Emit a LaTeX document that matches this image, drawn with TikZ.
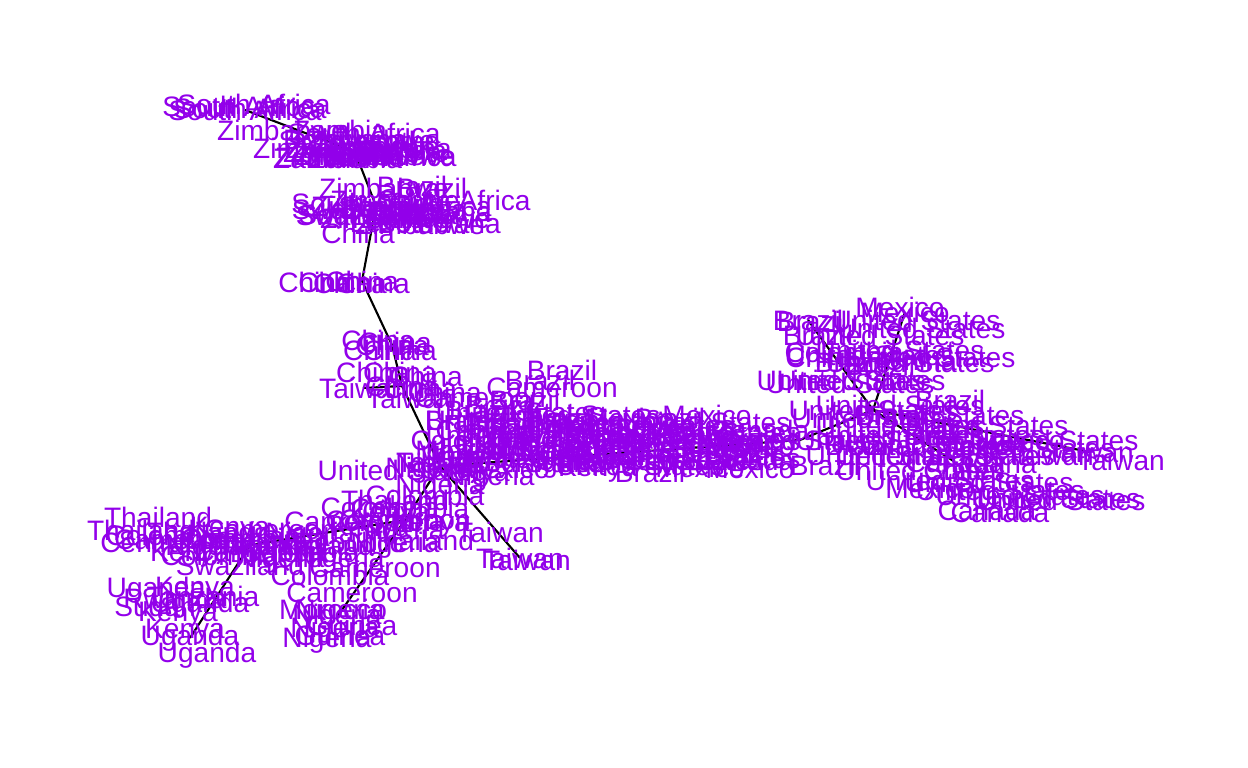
\documentclass[tikz,border=0pt]{standalone}
\usepackage{fontspec}
\setmainfont{Liberation Sans}
\usepackage{xcolor}
\usepackage{tikz}
\usetikzlibrary{backgrounds}
\definecolor{nodeviolet}{RGB}{146,0,234}

\begin{document}
\begin{tikzpicture}[x=0.01cm,y=-0.01cm,
	country/.style={text=nodeviolet,font=\fontsize{8}{9.6}\selectfont,inner sep=0pt}]
	\useasboundingbox (0,0) rectangle (1248,768);

%	====================================================================
%	top group
	\foreach \x/\y/\lbl [count=\i] in {239/106/South Africa,254/104/South Africa,250/108/South Africa,
		282/130/Zimbabwe,318/148/Zimbabwe,320/158/Zambia,364/133/South Africa,340/130/Zambia,
		350/148/Zimbabwe,360/155/Zimbabwe,375/146/Zimbabwe,395/152/Zambia,380/156/South Africa,
		390/141/Lesotho,345/140/Botswana,340/157/Zimbabwe,390/155/Zimbabwe,390/149/Botswana,
		330/152/Zambia,400/150/Zambia,370/140/Zimbabwe,355/158/Zambia,
		384/188/Zimbabwe,412/186/Brazil,432/188/Brazil,454/200/South Africa,368/203/South Africa,
		356/209/Swaziland,375/214/South Africa,395/200/Zimbabwe,415/206/South Africa,
		410/214/Zambia,430/212/Botswana,385/218/Zimbabwe,439/224/Botswana,420/224/Zimbabwe,
		358/233/China,400/222/Lesotho,360/215/Swaziland,405/210/Botswana,425/218/Zimbabwe}
		\node[country] (a\i) at (\x,\y) {\lbl};
	\node[country] (sa) at (245,110) {South Africa};
	\node[country] (zim) at (355,152) {Zimbabwe};
	\node[country] (bots) at (376,206) {Zimbabwe};

%	China chain
	\foreach \x/\y/\lbl [count=\i] in {315/282/China,335/282/China,350/283/China,373/283/China,
		378/340/China,395/342/China,380/350/China,400/350/China,373/372/China,400/372/China,
		426/376/China,410/398/Taiwan,420/388/China,445/392/China,562/370/Brazil,540/380/Brazil,
		552/388/Cameroon,480/398/Cameroon,500/405/Brazil,525/400/Brazil}
		\node[country] (b\i) at (\x,\y) {\lbl};
	\node[country] (chA) at (362,281) {China};
	\node[country] (chB) at (392,345) {China};
	\node[country] (chC) at (402,386) {China};
	\node[country] (twn) at (363,388) {Taiwan};

%	middle group
	\foreach \x/\y/\lbl [count=\i] in {576/415/United States,707/415/Mexico,706/422/United States,
		598/470/Kenya,640/465/United States,700/467/Mexico,480/410/Brazil,520/412/United States,
		510/420/United States,500/425/Brazil,540/422/United States,580/425/Mexico,
		610/428/United States,650/425/United States,690/430/Mexico,716/432/United States,
		510/435/United States,520/440/Kenya,560/438/United States,600/440/Brazil,640/437/Canada,
		680/442/United States,716/440/United States,750/445/Mexico,510/450/United States,
		530/452/Mexico,570/450/United States,610/455/Brazil,650/452/United States,
		700/455/United States,740/452/Brazil,716/458/United States,470/460/Kenya,
		520/462/United States,560/465/Nigeria,750/468/Mexico,402/470/United States,
		440/462/Taiwan,430/470/Nigeria,490/478/Nigeria,470/475/Kenya,505/455/United States,
		470/440/Colombia,460/420/Brazil,760/430/Canada,
		540/432/United States,600/433/United States,660/434/United States,545/446/United States,
		605/447/United States,665/448/United States,550/458/United States,620/460/United States,
		680/460/United States,490/445/Brazil,460/450/Mexico,740/438/Mexico,745/460/Canada,
		560/418/Brazil,630/418/Mexico,670/418/Brazil,505/468/Mexico,650/472/Brazil,
		485/430/Canada,720/448/Kenya}
		\node[country] (c\i) at (\x,\y) {\lbl};
	\node[country] (ctr) at (440,466) {Nigeria};
	\node[country] (twS) at (520,558) {Taiwan};
	\node[country] (twS2) at (527,560) {Taiwan};

%	lower group
	\foreach \x/\y/\lbl [count=\i] in {425/495/Colombia,440/487/Nigeria,395/500/Thailand,
		380/507/Colombia,390/515/Kenya,430/525/Kenya,400/532/Nigeria,500/532/Taiwan,
		395/545/Nigeria,385/520/Colombia,420/540/Thailand,410/508/Colombia,370/530/Kenya,
		158/517/Thailand,141/530/Thailand,252/545/Central African Republic,350/522/Cameroon,
		165/535/Colombia,200/532/Thailand,240/538/Colombia,270/530/Cameroon,290/540/Kenya,
		210/548/Nigeria,260/552/Cameroon,300/552/Colombia,320/545/Thailand,190/555/Kenya,
		280/560/Nigeria,240/565/Swaziland,375/568/Cameroon,340/560/Nigeria,330/575/Colombia,
		180/540/Cameroon,230/530/Kenya,310/535/Nigeria,220/555/Colombia,270/545/Thailand,
		352/593/Cameroon,333/610/Morocco,340/612/Nigeria,352/625/Guinea,335/630/Nigeria,
		327/640/Nigeria,340/635/Guinea,
		156/590/Uganda,195/590/Kenya,203/596/Tanzania,155/606/Sudan,178/615/Kenya,
		185/632/Kenya,207/655/Uganda,200/605/Uganda,175/598/Rwanda}
		\node[country] (d\i) at (\x,\y) {\lbl};
	\node[country] (cam) at (405,520) {Cameroon};
	\node[country] (thai) at (250,545) {Thailand};
	\node[country] (uga) at (190,638) {Uganda};
	\node[country] (nig) at (337,617) {Nigeria};

%	right group
	\foreach \x/\y/\lbl [count=\i] in {900/307/Mexico,812/321/Brazil,
		916/320/United States,921/328/United States,818/335/Brazil,880/335/United States,
		931/357/United States,822/357/China,870/355/United States,844/352/Colombia,850/362/Brazil,
		920/360/China,841/380/United States,850/383/United States,861/380/United States,
		950/400/Brazil,900/405/United States,876/418/United States,984/425/United States,
		1054/440/United States,1121/460/Taiwan,1030/448/United States,900/425/United States,
		940/430/Brazil,880/440/United States,930/445/United States,980/445/Mexico,860/445/Brazil,
		890/455/United States,825/465/Brazil,960/470/China,1000/463/China,989/482/United States,
		930/488/Mexico,1056/498/United States,1061/500/United States,987/510/Canada,1000/512/Canada,
		1020/495/United States,920/470/United States,1050/455/Taiwan,
		900/350/United States,910/362/United States,880/365/Brazil,940/415/United States,
		960/435/United States,900/435/United States,920/455/United States,970/455/United States,
		950/480/United States,1000/490/United States,890/415/Brazil,1020/440/Mexico}
		\node[country] (e\i) at (\x,\y) {\lbl};
	\node[country] (usa) at (800,440) {United States};
	\node[country] (usR) at (873,410) {United States};
	\node[country] (braz) at (808,320) {Brazil};
	\node[country] (mex) at (905,312) {Mexico};
	\node[country] (twE) at (1090,452) {Taiwan};
	\node[country] (can) at (955,462) {Canada};

%	====================================================================
	\begin{pgfonlayer}{background}
	\draw[line width=.6pt] (sa.center)--(zim.center)--(bots.center)--(chA.center)
		--(chB.center)--(chC.center)--(ctr.center)--(twS.center);
	\draw[line width=.6pt] (twn.center)--(chC.center)
		(ctr.center)--(cam.center)--(thai.center)--(uga.center)
		(cam.center)--(nig.center)
		(ctr.center)--(usa.center)--(usR.center)--(braz.center)
		(usR.center)--(mex.center)
		(usR.center)--(twE.center)
		(usR.center)--(can.center);
	\end{pgfonlayer}
\end{tikzpicture}
\end{document}
